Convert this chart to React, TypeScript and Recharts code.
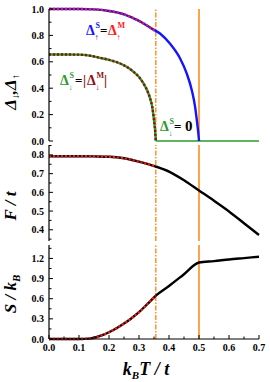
import { LineChart, Line, XAxis, YAxis, ReferenceLine } from "recharts";

const FONT = "'Liberation Serif', 'Times New Roman', serif";

// transition temperatures (vertical markers)
const tcDown = 0.356;
const tcUp = 0.5;

// panel 1: Δ↑ (spin up gap), S and M solutions
const upT = [0, 0.05, 0.1, 0.15, 0.2, 0.25, 0.3, 0.34, 0.37, 0.403, 0.437, 0.459, 0.476, 0.487, 0.494, 0.499, 0.5];
const upS = [1, 1, 1, 0.997, 0.985, 0.96, 0.91, 0.855, 0.814, 0.738, 0.625, 0.512, 0.385, 0.259, 0.134, 0.03, 0];
const upMT = [0, 0.05, 0.1, 0.15, 0.2, 0.25, 0.3, 0.34, 0.356];
const upM = [1, 1, 1, 0.997, 0.985, 0.96, 0.91, 0.855, 0.83];

// panel 1: Δ↓ (spin down gap)
const downT = [0, 0.05, 0.1, 0.14, 0.17, 0.2, 0.237, 0.26, 0.282, 0.3, 0.315, 0.327, 0.337, 0.344, 0.348, 0.352, 0.354, 0.356];
const downS = [0.655, 0.655, 0.654, 0.645, 0.63, 0.615, 0.587, 0.56, 0.524, 0.485, 0.436, 0.385, 0.323, 0.26, 0.197, 0.12, 0.07, 0];
const downZeroT = [0.356, 0.7];
const downZero = [0, 0];

// panel 2: free energy F/t
const fT = [0, 0.1, 0.15, 0.2, 0.25, 0.3, 0.356, 0.4, 0.45, 0.5, 0.55, 0.6, 0.65, 0.7];
const fS = [0.793, 0.793, 0.792, 0.79, 0.782, 0.764, 0.738, 0.711, 0.665, 0.61, 0.555, 0.498, 0.435, 0.372];
const fMT = [0, 0.1, 0.15, 0.2, 0.25, 0.3, 0.356];
const fM = [0.793, 0.793, 0.792, 0.79, 0.782, 0.764, 0.738];

// panel 3: entropy S/kB
const sT = [0, 0.1, 0.12, 0.14, 0.16, 0.18, 0.2, 0.225, 0.25, 0.275, 0.3, 0.33, 0.356, 0.4, 0.45, 0.5, 0.55, 0.6, 0.65, 0.7];
const sS = [0, 0, 0.002, 0.01, 0.03, 0.06, 0.1, 0.16, 0.23, 0.31, 0.4, 0.53, 0.645, 0.79, 0.965, 1.14, 1.16, 1.185, 1.205, 1.225];
const sMT = [0, 0.1, 0.12, 0.14, 0.16, 0.18, 0.2, 0.225, 0.25, 0.275, 0.3, 0.33, 0.356];
const sM = [0, 0, 0.002, 0.01, 0.03, 0.06, 0.1, 0.16, 0.23, 0.31, 0.4, 0.53, 0.645];

// ticks
const xTicks = [0, 0.05, 0.1, 0.15, 0.2, 0.25, 0.3, 0.35, 0.4, 0.45, 0.5, 0.55, 0.6, 0.65, 0.7];
const yTicks1 = [0, 0.1, 0.2, 0.3, 0.4, 0.5, 0.6, 0.7, 0.8, 0.9, 1.0];
const yTicks2 = [0.35, 0.4, 0.45, 0.5, 0.55, 0.6, 0.65, 0.7, 0.75, 0.8, 0.85];
const yTicks3 = [0, 0.15, 0.3, 0.45, 0.6, 0.75, 0.9, 1.05, 1.2, 1.35];

const zip = (ts: number[], vs: number[]) => ts.map((T, i) => ({ T, v: vs[i] }));

const isMajor = (v: number, step: number) => {
  const r = v / step;
  return Math.abs(r - Math.round(r)) < 1e-6;
};

const tickText = { fontFamily: FONT, fontSize: 10, fontWeight: "bold" as const, fill: "#000" };

const xTick = (dir: number, labels: boolean) => (props: any) => {
  const { x, y, payload } = props;
  const major = isMajor(payload.value, 0.1);
  return (
    <g>
      <line x1={x} x2={x} y1={y} y2={y + dir * (major ? 4 : 2.5)} stroke="#000" strokeWidth={1} />
      {labels && major && (
        <text x={x} y={y + 12} textAnchor="middle" {...tickText}>
          {payload.value.toFixed(1)}
        </text>
      )}
    </g>
  );
};

const yTick = (dir: number, step: number, labels: boolean) => (props: any) => {
  const { x, y, payload } = props;
  const major = isMajor(payload.value, step);
  return (
    <g>
      <line x1={x} x2={x + dir * (major ? 4 : 2.5)} y1={y} y2={y} stroke="#000" strokeWidth={1} />
      {labels && major && (
        <text x={x - 5} y={y + 3.5} textAnchor="end" {...tickText}>
          {payload.value.toFixed(1)}
        </text>
      )}
    </g>
  );
};

const axisLine = { stroke: "#000", strokeWidth: 1.2 };
const BLUE = "#1414ff";
const RED = "#ff1a1a";
const GREEN = "#2b9a2b";
const DARKRED = "#8e0f0f";
const ORANGE = "#ff8c1a";

function Frame({ yDomain, yTicks, yStep, xLabels, xHeight }: any) {
  return [
    <XAxis
      key="xb"
      xAxisId="b"
      type="number"
      dataKey="T"
      domain={[0, 0.7]}
      ticks={xTicks}
      height={xHeight}
      tickSize={0}
      tickMargin={0}
      axisLine={axisLine}
      tickLine={false}
      tick={xTick(-1, xLabels)}
      interval={0}
    />,
    <XAxis
      key="xt"
      xAxisId="t"
      orientation="top"
      type="number"
      dataKey="T"
      domain={[0, 0.7]}
      ticks={xTicks}
      height={0}
      tickSize={0}
      tickMargin={0}
      axisLine={axisLine}
      tickLine={false}
      tick={xTick(1, false)}
      interval={0}
    />,
    <YAxis
      key="yl"
      yAxisId="l"
      type="number"
      domain={yDomain}
      ticks={yTicks}
      width={49}
      tickSize={0}
      tickMargin={0}
      axisLine={axisLine}
      tickLine={false}
      tick={yTick(1, yStep, true)}
      interval={0}
    />,
    <YAxis
      key="yr"
      yAxisId="r"
      orientation="right"
      type="number"
      domain={yDomain}
      ticks={yTicks}
      width={0}
      tickSize={0}
      tickMargin={0}
      axisLine={axisLine}
      tickLine={false}
      tick={yTick(-1, yStep, false)}
      interval={0}
    />,
    <ReferenceLine key="r1" xAxisId="b" yAxisId="l" x={tcDown} stroke={ORANGE} strokeWidth={1.4} strokeDasharray="5 1.5 1.5 1.5" />,
    <ReferenceLine key="r2" xAxisId="b" yAxisId="l" x={tcUp} stroke={ORANGE} strokeWidth={1.6} />,
  ];
}

const series = (key: string, data: any[], color: string, width: number, dash?: string) => (
  <Line
    key={key}
    xAxisId="b"
    yAxisId="l"
    data={data}
    dataKey="v"
    type="monotone"
    stroke={color}
    strokeWidth={width}
    strokeDasharray={dash}
    dot={false}
    isAnimationActive={false}
  />
);

const titleStyle = { fontFamily: FONT, fontWeight: "bold" as const, fontStyle: "italic" as const, fill: "#000" };
const annStyle = { fontFamily: FONT, fontWeight: "bold" as const };

function Delta({ x, y, color, sup, sub }: any) {
  return (
    <g>
      <text x={x} y={y} fontSize={14} fill={color} style={annStyle as any}>Δ</text>
      <text x={x + 9.5} y={y - 7} fontSize={8} fill={color} style={annStyle as any}>{sup}</text>
      <text x={x + 8.5} y={y + 5} fontSize={8} fill={color} style={annStyle as any}>{sub}</text>
    </g>
  );
}

export default function App() {
  return (
    <div style={{ position: "absolute", left: 0, top: 0, width: 270, height: 382, background: "#fff" }}>
      <div style={{ position: "absolute", left: 0, top: 0 }}>
        <LineChart width={270} height={150} margin={{ top: 9, right: 11, bottom: 9, left: 0 }}>
          {Frame({ yDomain: [0, 1], yTicks: yTicks1, yStep: 0.2, xLabels: false, xHeight: 0 })}
          {series("dzero", zip(downZeroT, downZero), GREEN, 1.6)}
          {series("ds", zip(downT, downS), GREEN, 2.4)}
          {series("dm", zip(downT, downS), DARKRED, 2.4, "2 2")}
          {series("us", zip(upT, upS), BLUE, 2.4)}
          {series("um", zip(upMT, upM), RED, 2.4, "2 2")}
          <text transform="translate(16,92) rotate(-90)" textAnchor="middle" fontSize={17} style={titleStyle as any}>
            Δ<tspan fontSize={10} dy={3}>↓</tspan>
            <tspan dy={-3}>,Δ</tspan>
            <tspan fontSize={10} dy={3}>↑</tspan>
          </text>
          <Delta x={86} y={35} color={BLUE} sup="S" sub="↑" />
          <text x={100} y={35} fontSize={13} fill="#000" style={annStyle as any}>=</text>
          <Delta x={108} y={35} color={RED} sup="M" sub="↑" />
          <Delta x={60} y={85} color={GREEN} sup="S" sub="↓" />
          <text x={75} y={85} fontSize={13} fill="#000" style={annStyle as any}>=</text>
          <text x={83} y={85} fontSize={14} fill={DARKRED} style={annStyle as any}>|</text>
          <Delta x={87} y={85} color={DARKRED} sup="M" sub="↓" />
          <text x={104} y={85} fontSize={14} fill={DARKRED} style={annStyle as any}>|</text>
          <Delta x={160} y={131} color={GREEN} sup="S" sub="↓" />
          <text x={174} y={131} fontSize={13} fill="#000" style={annStyle as any}>=</text>
          <text x={185} y={131} fontSize={15} fill="#000" style={annStyle as any}>0</text>
        </LineChart>
      </div>
      <div style={{ position: "absolute", left: 0, top: 143 }}>
        <LineChart width={270} height={99} margin={{ top: 2, right: 11, bottom: 1, left: 0 }}>
          {Frame({ yDomain: [0.34, 0.853], yTicks: yTicks2, yStep: 0.1, xLabels: false, xHeight: 0 })}
          {series("fs", zip(fT, fS), "#000", 2.4)}
          {series("fm", zip(fMT, fM), RED, 2.4, "2 2")}
          <text transform="translate(16,63) rotate(-90)" textAnchor="middle" fontSize={17} style={titleStyle as any}>
            F / t
          </text>
        </LineChart>
      </div>
      <div style={{ position: "absolute", left: 0, top: 242 }}>
        <LineChart width={270} height={140} margin={{ top: 3, right: 11, bottom: 0, left: 0 }}>
          {Frame({ yDomain: [0, 1.4], yTicks: yTicks3, yStep: 0.3, xLabels: true, xHeight: 43 })}
          {series("ss", zip(sT, sS), "#000", 2.4)}
          {series("sm", zip(sMT, sM), RED, 2.4, "2 2")}
          <text transform="translate(16,52) rotate(-90)" textAnchor="middle" fontSize={17} style={titleStyle as any}>
            S / k<tspan fontSize={11} dy={4}>B</tspan>
          </text>
          <text x={146} y={133} textAnchor="middle" fontSize={18} style={titleStyle as any}>
            k<tspan fontSize={11} dy={4}>B</tspan>
            <tspan dy={-4}>T / t</tspan>
          </text>
        </LineChart>
      </div>
    </div>
  );
}
